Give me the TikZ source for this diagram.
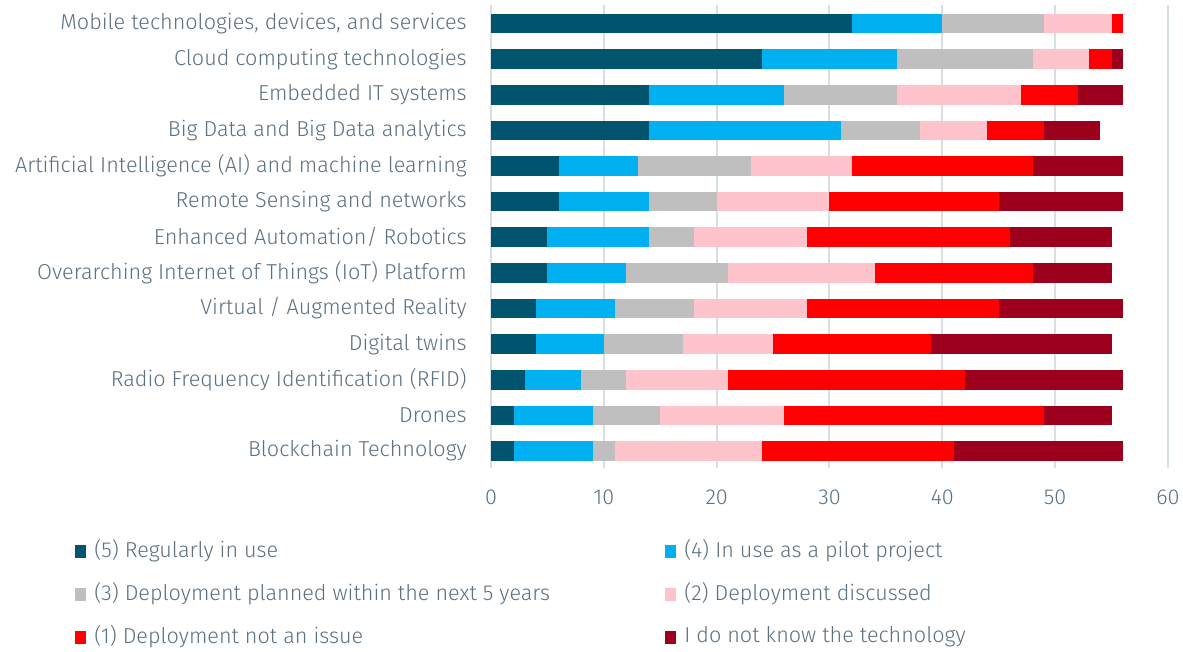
\documentclass[tikz,border=0pt]{standalone}
\usepackage{fontspec}
\setmainfont{Fira Sans Light}
\definecolor{cfive}{HTML}{00546E}
\definecolor{cfour}{HTML}{00B0F0}
\definecolor{cthree}{HTML}{BFBFBF}
\definecolor{ctwo}{HTML}{FFC3CB}
\definecolor{cone}{HTML}{FF0000}
\definecolor{cnk}{HTML}{9C001C}
\definecolor{txt}{HTML}{5B7080}
\definecolor{gridc}{HTML}{D6DFE4}
\tikzset{
  lab/.style={anchor=east,text=txt,font=\fontsize{16.2}{17}\selectfont,inner sep=0pt},
  ticklab/.style={text=txt,font=\fontsize{16.2}{17}\selectfont,inner sep=0pt},
  leglab/.style={anchor=west,text=txt,font=\fontsize{16.2}{17}\selectfont,inner sep=0pt},
  gridline/.style={draw=gridc,line width=1.5pt},
}
\newcommand\segm[3]{\fill[#3] ({491+#1*11.283},{\yc-9.8}) rectangle ({491+#2*11.283},{\yc+9.8});}
\newcommand\barrow[8]{%
  \pgfmathsetmacro\yc{23.5+#1*35.62}
  \node[lab] (l#1) at (467,\yc) {#2};
  \pgfmathsetmacro\sa{#3}
  \pgfmathsetmacro\sb{\sa+#4}
  \pgfmathsetmacro\sc{\sb+#5}
  \pgfmathsetmacro\sd{\sc+#6}
  \pgfmathsetmacro\se{\sd+#7}
  \pgfmathsetmacro\sf{\se+#8}
  \segm{0}{\sa}{cfive}
  \segm{\sa}{\sb}{cfour}
  \segm{\sb}{\sc}{cthree}
  \segm{\sc}{\sd}{ctwo}
  \segm{\sd}{\se}{cone}
  \segm{\se}{\sf}{cnk}
}
\newcommand\legitem[4]{%
  \fill[#3] (#1,{#2-6.5}) rectangle ({#1+11},{#2+6.5});
  \node[leglab] at ({#1+19},#2) {#4};
}
\begin{document}
\begin{tikzpicture}[x=0.75pt,y=-0.75pt]
\useasboundingbox (0,0) rectangle (1183,651);
\foreach \v in {0,...,6}{
  \draw[gridline] ({491+\v*112.83},5) -- ({491+\v*112.83},468);
  \pgfmathtruncatemacro\lbl{\v*10}
  \node[ticklab] (t\v) at ({491+\v*112.83},497) {\lbl};
}
\barrow{0}{Mobile technologies, devices, and services}{32}{8}{9}{6}{1}{0}
\barrow{1}{Cloud computing technologies}{24}{12}{12}{5}{2}{1}
\barrow{2}{Embedded IT systems}{14}{12}{10}{11}{5}{4}
\barrow{3}{Big Data and Big Data analytics}{14}{17}{7}{6}{5}{5}
\barrow{4}{Artificial Intelligence (AI) and machine learning}{6}{7}{10}{9}{16}{8}
\barrow{5}{Remote Sensing and networks}{6}{8}{6}{10}{15}{11}
\barrow{6}{Enhanced Automation/ Robotics}{5}{9}{4}{10}{18}{9}
\barrow{7}{Overarching Internet of Things (IoT) Platform}{5}{7}{9}{13}{14}{7}
\barrow{8}{Virtual / Augmented Reality}{4}{7}{7}{10}{17}{11}
\barrow{9}{Digital twins}{4}{6}{7}{8}{14}{16}
\barrow{10}{Radio Frequency Identification (RFID)\ }{3}{5}{4}{9}{21}{14}
\barrow{11}{Drones}{2}{7}{6}{11}{23}{6}
\barrow{12}{Blockchain Technology}{2}{7}{2}{13}{17}{15}
\legitem{75}{551}{cfive}{(5) Regularly in use}
\legitem{665}{551}{cfour}{(4) In use as a pilot project}
\legitem{75}{594}{cthree}{(3) Deployment planned within the next 5 years}
\legitem{665}{594}{ctwo}{(2) Deployment discussed}
\legitem{75}{637}{cone}{(1) Deployment not an issue}
\legitem{665}{637}{cnk}{I do not know the technology}
\end{tikzpicture}
\end{document}
